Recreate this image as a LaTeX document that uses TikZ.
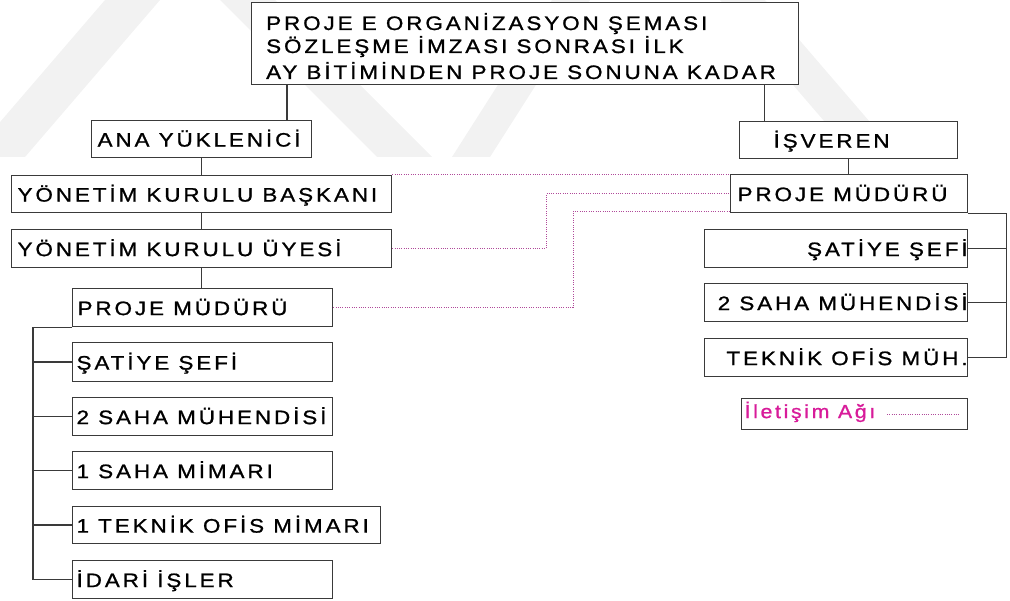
\documentclass[tikz,border=0pt]{standalone}
\usepackage{fontspec}
\setmainfont{Liberation Sans}[LetterSpace=15, FakeStretch=1.15, FakeBold=1]
\newfontfamily\legendfont{Liberation Sans}[LetterSpace=14, FakeStretch=1.12, FakeBold=1]
\definecolor{frame}{HTML}{3A3A3A}
\definecolor{netline}{HTML}{B04A9A}
\definecolor{nettext}{HTML}{D81B9A}
\definecolor{stripe}{HTML}{F2F2F2}
% fixed-width line of text inside a box: width, alignment (l/c/r), text
\newcommand\boxline[3]{\makebox[#1][#2]{#3}}

\begin{document}
\begin{tikzpicture}[x=1pt,y=-1pt,
  box/.style={draw=frame, fill=white, line width=1.2pt, rectangle, inner sep=0pt,
    anchor=north west, text height=15pt, text depth=0pt,
    font=\fontsize{19.5}{22}\selectfont},
  txt/.style={inner sep=0pt, anchor=base west, font=\fontsize{19.5}{22}\selectfont},
  link/.style={draw=frame, line width=1.2pt},
  net/.style={draw=netline, line width=1pt, dash pattern=on 1pt off 1.3pt},
]
\useasboundingbox (0,0) rectangle (1010,601);

% background stripes
\fill[stripe] (-30,157) -- (25,157) -- (160,0) -- (105,0) -- cycle;
\fill[stripe] (220,0) -- (275,0) -- (432,157) -- (377,157) -- cycle;
\fill[stripe] (452,157) -- (490,157) -- (590,0) -- (552,0) -- cycle;
\fill[stripe] (720,0) -- (765,0) -- (900,157) -- (855,157) -- cycle;

% title box
\node[box, minimum width=547pt, minimum height=82pt] (top) at (251,2) {};
\node[txt] (t1) at (266,30) {PROJE E ORGANİZASYON ŞEMASI};
\node[txt] (t2) at (266,53) {SÖZLEŞME İMZASI SONRASI İLK};
\node[txt] (t3) at (266,79) {AY BİTİMİNDEN PROJE SONUNA KADAR};

% contractor side
\node[box, minimum width=220pt, minimum height=37pt] (ana) at (91,120) {\boxline{208pt}{l}{ANA YÜKLENİCİ}};
\node[box, minimum width=380pt, minimum height=37pt] (ykb) at (11,175) {\boxline{368pt}{l}{YÖNETİM KURULU BAŞKANI}};
\node[box, minimum width=380pt, minimum height=38pt] (yku) at (11,229) {\boxline{368pt}{l}{YÖNETİM KURULU ÜYESİ}};
\node[box, minimum width=260pt, minimum height=38pt] (pml) at (72,288) {\boxline{250pt}{l}{PROJE MÜDÜRÜ}};
\node[box, minimum width=260pt, minimum height=39pt] (lc1) at (72,342) {\boxline{252pt}{l}{ŞATİYE ŞEFİ}};
\node[box, minimum width=260pt, minimum height=38pt] (lc2) at (72,397) {\boxline{252pt}{l}{2 SAHA MÜHENDİSİ}};
\node[box, minimum width=260pt, minimum height=38pt] (lc3) at (72,451) {\boxline{252pt}{l}{1 SAHA MİMARI}};
\node[box, minimum width=308pt, minimum height=37pt] (lc4) at (72,506) {\boxline{300pt}{l}{1 TEKNİK OFİS MİMARI}};
\node[box, minimum width=260pt, minimum height=38pt] (lc5) at (72,560) {\boxline{252pt}{l}{İDARİ İŞLER}};

% employer side
\node[box, minimum width=218pt, minimum height=37pt] (isv) at (739,121) {\boxline{212pt}{l}{\hspace{31pt}İŞVEREN}};
\node[box, minimum width=237pt, minimum height=38pt] (pmr) at (730,174) {\boxline{223pt}{l}{PROJE MÜDÜRÜ}};
\node[box, minimum width=263pt, minimum height=38pt] (rc1) at (704,229) {\boxline{263pt}{r}{ŞATİYE ŞEFİ}};
\node[box, minimum width=263pt, minimum height=38pt] (rc2) at (704,283) {\boxline{263pt}{r}{2 SAHA MÜHENDİSİ}};
\node[box, minimum width=263pt, minimum height=38pt] (rc3) at (704,338) {\boxline{263pt}{r}{TEKNİK OFİS MÜH.}};

% legend
\node[box, minimum width=226pt, minimum height=31pt, text height=8pt,
  font=\fontsize{19}{22}\selectfont] (legend) at (741,398)
  {\boxline{220pt}{l}{\legendfont\color{nettext}İletişim Ağı}};

% hierarchy lines
\draw[link] ([xshift=36pt]top.south west) -- ([xshift=36pt]top.south west |- ana.north);
\draw[link] ([xshift=-35pt]top.south east) -- ([xshift=-35pt]top.south east |- isv.north);
\draw[link] (ana.south) -- (ana.south |- ykb.north);
\draw[link] (ykb.south) -- (ykb.south |- yku.north);
\draw[link] (yku.south) -- (yku.south |- pml.north);
\draw[link] (isv.south) -- (isv.south |- pmr.north);

% left staff bus
\draw[link] (pml.south west) -| ([xshift=-39pt]lc5.west) -- (lc5.west);
\foreach \n in {lc1,lc2,lc3,lc4}
  \draw[link] (\n.west) -- ([xshift=-39pt]\n.west);

% right staff bus
\draw[link] (pmr.south east) -| ([xshift=38pt]rc3.east) -- (rc3.east);
\foreach \n in {rc1,rc2}
  \draw[link] (\n.east) -- ([xshift=38pt]\n.east);

% communication network
\draw[net] (ykb.north east) -- (ykb.north east -| pmr.west);
\draw[net] (yku.east) -- ([xshift=154pt]yku.east) |- (pmr.west);
\draw[net] (pml.east) -- ([xshift=240pt]pml.east) |- ([yshift=2pt]pmr.south west);
\draw[net] ([xshift=146pt]legend.west) -- ([xshift=-9pt]legend.east);
\end{tikzpicture}
\end{document}
